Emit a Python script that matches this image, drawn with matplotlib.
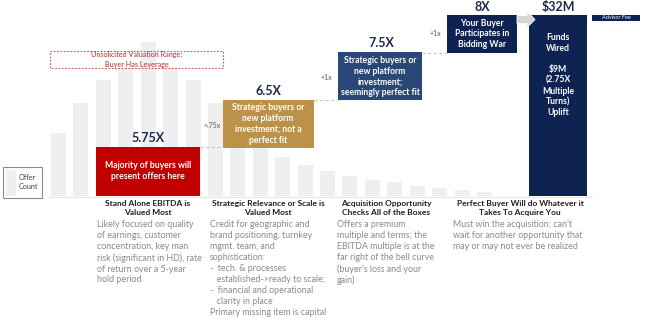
import numpy as np
import matplotlib.pyplot as plt
from matplotlib import patches

plt.rcParams['font.family'] = ['Lato', 'DejaVu Sans']

# ---------------- data ----------------
bin_index = np.arange(20)
offer_count = [63, 93, 116, 128, 154, 128, 116, 93, 70, 52, 39, 31, 25, 20, 16, 14, 10, 8, 6, 4]

multiples = ['5.75X', '6.5X', '7.5X', '8X', '$32M']
steps = ['+.75x', '+1x', '+1x']
box_texts = ['Majority of buyers will\npresent offers here',
             'Strategic buyers or\nnew platform\ninvestment; not a\nperfect fit',
             'Strategic buyers or\nnew platform\ninvestment;\nseemingly perfect fit',
             'Your Buyer\nParticipates in\nBidding War',
             'Funds\nWired\n\n$9M\n(2.75X\nMultiple\nTurns)\nUplift']
headings = ['Stand Alone EBITDA is\nValued Most',
            'Strategic Relevance or Scale is\nValued Most',
            'Acquisition Opportunity\nChecks All of the Boxes',
            'Perfect Buyer Will do Whatever it\nTakes To Acquire You']
bodies = ['Likely focused on quality\nof earnings, customer\nconcentration, key man\nrisk (significant in HD), rate\nof return over a 5-year\nhold period',
          'Credit for geographic and\nbrand positioning, turnkey\nmgmt. team, and\nsophistication:\n-  tech. & processes\n   established->ready to scale;\n-  financial and operational\n   clarity in place\nPrimary missing item is capital',
          'Offers a premium\nmultiple and terms; the\nEBITDA multiple is at the\nfar right of the bell curve\n(buyer\u2019s loss and your\ngain)',
          'Must win the acquisition; can\u2019t\nwait for another opportunity that\nmay or may not ever be realized']

RED = '#c00000'
GOLD = '#bc9248'
NAVY1 = '#2b4778'
NAVY2 = '#0f2352'
TXT = '#1f1f1f'
BODY = '#8a8a8a'

fig = plt.figure(figsize=(6.5, 3.21), dpi=100)

# histogram of offers (pixel-like count units)
ax = fig.add_axes([0, 0, 1, 1])
pitch = 22.42
ax.bar(bin_index, offer_count, width=15 / pitch, color='#efefef', zorder=1)
ax.set_xlim(-58.5 / pitch, (650 - 58.5) / pitch)
ax.set_ylim(-125, 196)
ax.axis('off')

# overlay in pixel coordinates for the callouts
ov = fig.add_axes([0, 0, 1, 1], zorder=2)
ov.set_xlim(0, 650)
ov.set_ylim(321, 0)
ov.axis('off')
ov.patch.set_alpha(0)

ov.plot([48, 592], [196.5, 196.5], color='#e6e6e6', lw=0.8)

def box(x0, y0, x1, y1, fc):
    ov.add_patch(patches.Rectangle((x0, y0), x1 - x0, y1 - y0, fc=fc, ec='none'))

box(96, 147, 200, 196, RED)
box(223, 100, 314, 148, GOLD)
box(338, 52, 422, 100, NAVY1)
box(447, 15, 517, 53, NAVY2)
box(529, 15, 587, 196, NAVY2)
box(592, 15, 640, 20.5, NAVY2)

# dashed step connectors
for xs, y in [((200, 223), 147), ((314, 338), 100), ((422, 447), 52.5)]:
    ov.plot(xs, [y, y], color='#c8c8c8', lw=0.8, ls=(0, (3, 2)))

ov.add_patch(patches.FancyArrow(517, 19.5, 10, 0, width=8, head_width=16,
                                head_length=8, fc='#d6d6d6', ec='white', lw=0.6,
                                length_includes_head=False))

# unsolicited range
ov.add_patch(patches.Rectangle((50, 51), 173, 17, fc='none', ec='#d05050',
                               lw=0.8, ls=(0, (1.5, 1.5))))
ov.text(137, 59.5, 'Unsolicited Valuation Range;\nBuyer Has Leverage', ha='center',
        va='center', fontsize=5.2, color='#b03030', linespacing=1.45)

# multiples
for label, (x, y) in zip(multiples, [(148, 138), (268, 91), (381, 43), (482, 7), (558, 7)]):
    ov.text(x, y, label, ha='center', va='center', fontsize=9, fontweight='bold', color='#1c2a48')

for label, (x, y) in zip(steps, [(212, 125), (326, 77), (435, 34)]):
    ov.text(x, y, label, ha='center', va='center', fontsize=5, color='#555555')

# box captions
for t, (x, y, ls) in zip(box_texts, [(148, 171, 1.35), (268, 124, 1.3),
                                     (380, 76.5, 1.2), (482, 34, 1.2), (558, 75, 1.25)]):
    ov.text(x, y, t, ha='center', va='center', fontsize=6.2, fontweight='bold',
            color='white', linespacing=ls)

ov.text(616, 17.7, 'Advisor Fee', ha='center', va='center', fontsize=4, color='white')

# legend
ov.add_patch(patches.Rectangle((3, 167), 39, 31, fc='white', ec='#8c8c8c', lw=0.8))
ov.add_patch(patches.Rectangle((6, 170), 10, 26, fc='#efefef', ec='none'))
ov.text(19, 182, 'Offer\nCount', ha='left', va='center', fontsize=5.2, color='#444444',
        linespacing=1.3)

# column text
for h, x in zip(headings, [148, 268, 386, 520]):
    ov.text(x, 208, h, ha='center', va='center', fontsize=6, fontweight='bold',
            color=TXT, linespacing=1.3)
for b, x in zip(bodies, [97, 210, 337, 453]):
    ov.text(x, 220, b, ha='left', va='top', fontsize=6.4, color=BODY, linespacing=1.28)

fig.savefig('out.png', dpi=100)
